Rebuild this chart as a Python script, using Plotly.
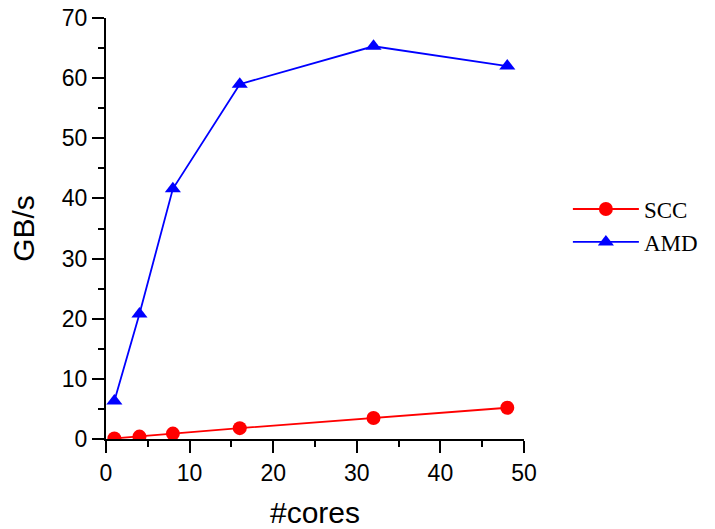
import plotly.graph_objects as go

cores = [1, 4, 8, 16, 32, 48]
scc = [0.1, 0.4, 0.9, 1.8, 3.5, 5.2]
amd = [6.3, 20.8, 41.6, 59.0, 65.3, 62.0]

fig = go.Figure()
fig.add_trace(go.Scatter(x=cores, y=scc, name="SCC", mode="lines+markers",
                         line=dict(color="#ff0000", width=1.8),
                         marker=dict(symbol="circle", size=14, color="#ff0000")))
fig.add_trace(go.Scatter(x=cores, y=amd, name="AMD", mode="lines+markers",
                         line=dict(color="#0000ff", width=1.8),
                         marker=dict(symbol="triangle-up", size=14, color="#0000ff")))

axis_common = dict(showline=True, linecolor="black", linewidth=2, ticks="outside",
                   ticklen=12, tickwidth=2, tickcolor="black", showgrid=False, zeroline=False,
                   automargin=False,
                   tickfont=dict(family="Liberation Sans, Arial", size=23, color="black"),
                   minor=dict(ticks="outside", ticklen=6, tickwidth=2, tickcolor="black", dtick=5))

fig.update_layout(
    width=715, height=529,
    margin=dict(l=106, r=187, t=18, b=90),
    plot_bgcolor="white", paper_bgcolor="white",
    xaxis=dict(range=[0, 50], dtick=10, tick0=0,
               title=dict(text="#cores", font=dict(family="Liberation Sans, Arial", size=30, color="black"), standoff=20),
               **axis_common),
    yaxis=dict(range=[0, 70], dtick=10, tick0=0,
               title=dict(text="GB/s", font=dict(family="Liberation Sans, Arial", size=30, color="black"), standoff=18),
               **axis_common),
    legend=dict(x=1.105, y=0.507, xanchor="left", yanchor="middle",
                font=dict(family="Liberation Serif, Times New Roman", size=23, color="black"),
                bgcolor="rgba(0,0,0,0)", itemwidth=66, tracegroupgap=0),
    showlegend=True,
)

fig.write_html("out.html")
